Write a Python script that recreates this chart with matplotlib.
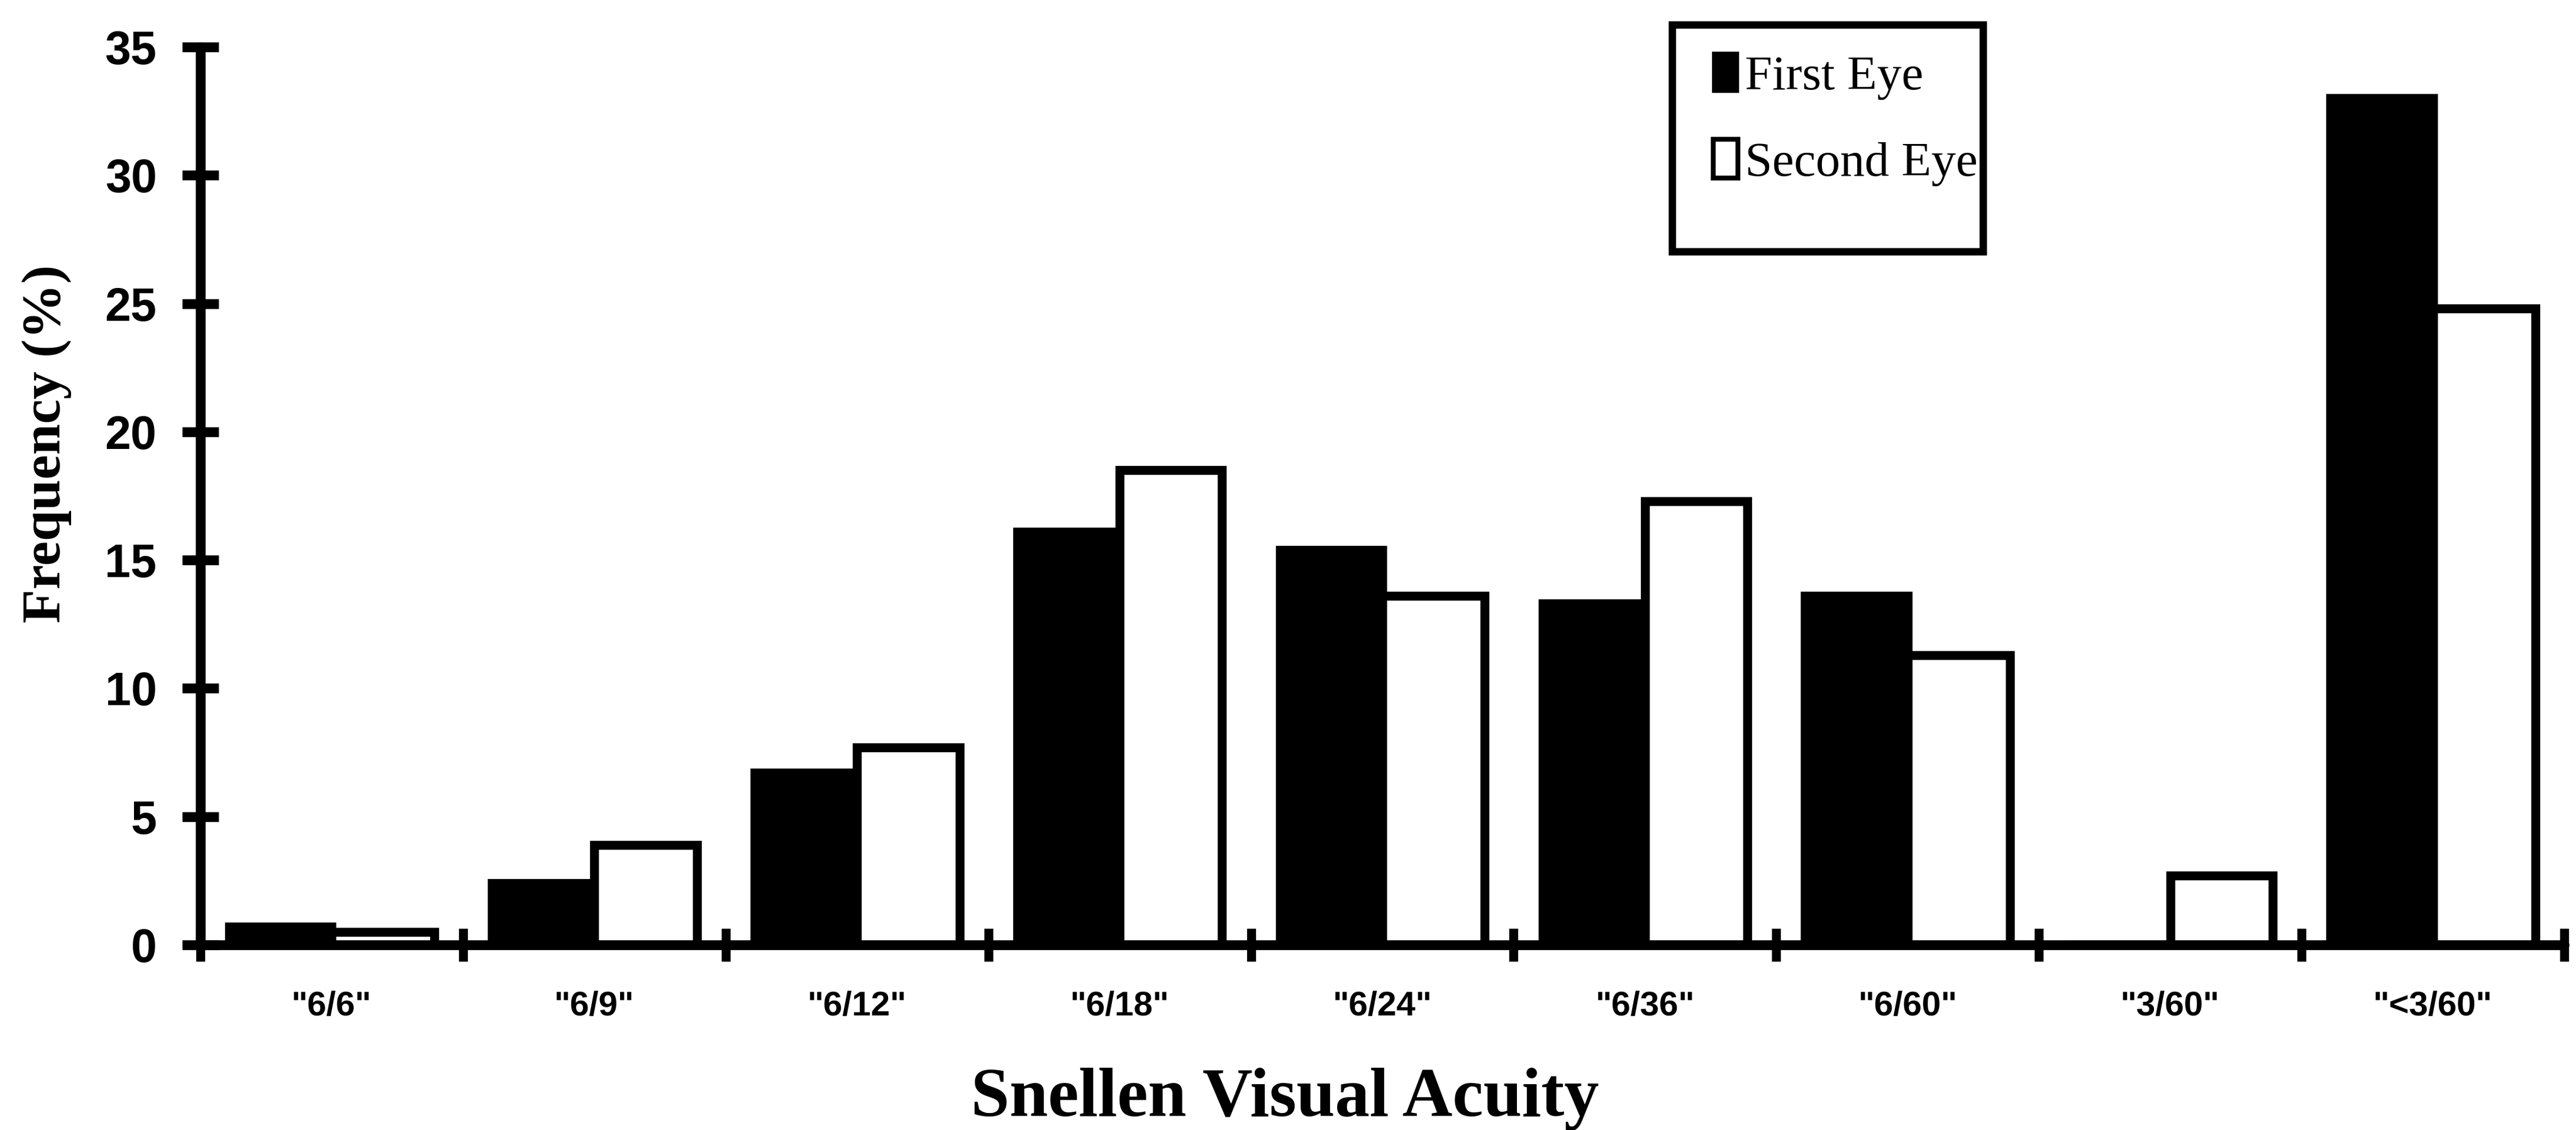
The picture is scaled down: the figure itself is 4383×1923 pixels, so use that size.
import matplotlib
matplotlib.use("Agg")
import matplotlib.pyplot as plt
import numpy as np
from matplotlib.patches import Patch, Rectangle
from matplotlib.ticker import FixedLocator, NullFormatter, FixedFormatter

# Snellen acuity categories and percentage frequencies
categories = ['"6/6"', '"6/9"', '"6/12"', '"6/18"', '"6/24"',
              '"6/36"', '"6/60"', '"3/60"', '"<3/60"']
first_eye = [0.7, 2.4, 6.7, 16.1, 15.4, 13.3, 13.6, 0.0, 33.0]
second_eye = [0.5, 3.9, 7.7, 18.5, 13.6, 17.3, 11.3, 2.7, 24.8]
y_ticks = [0, 5, 10, 15, 20, 25, 30, 35]

W, H, DPI = 4383, 1923, 100
fig = plt.figure(figsize=(W / DPI, H / DPI), dpi=DPI, facecolor="white")

ax_l, ax_r, ax_b, ax_t = 341, 4363, 1608, 80
ax = fig.add_axes([ax_l / W, 1 - ax_b / H, (ax_r - ax_l) / W, (ax_b - ax_t) / H])

x = np.arange(len(categories))
width = 0.39
edge_lw = 11
ax.bar(x - width / 2, first_eye, width, color="black", edgecolor="black",
       linewidth=edge_lw, zorder=2)
ax.bar(x + width / 2, second_eye, width, color="white", edgecolor="black",
       linewidth=edge_lw, zorder=2)

ax.set_xlim(-0.5, len(categories) - 0.5)
ax.set_ylim(0, 35)

for side in ("top", "right"):
    ax.spines[side].set_visible(False)
for side in ("left", "bottom"):
    ax.spines[side].set_linewidth(12)
    ax.spines[side].set_capstyle("round")

# y axis ticks
ax.set_yticks(y_ticks)
ax.tick_params(axis="y", direction="inout", length=45, width=12, pad=31,
               labelsize=57)
for lab in ax.get_yticklabels():
    lab.set_fontfamily("Liberation Sans")
    lab.set_fontweight("bold")

# x axis: major ticks at category boundaries, labels on minor ticks at centres
ax.xaxis.set_major_locator(FixedLocator(np.arange(-0.5, len(categories), 1.0)))
ax.xaxis.set_major_formatter(NullFormatter())
ax.xaxis.set_minor_locator(FixedLocator(x))
ax.xaxis.set_minor_formatter(FixedFormatter(categories))
ax.tick_params(axis="x", which="major", direction="inout", length=40, width=11)
ax.tick_params(axis="x", which="minor", length=0, pad=56, labelsize=42)
for lab in ax.xaxis.get_minorticklabels():
    lab.set_fontfamily("Liberation Sans")
    lab.set_fontweight("bold")

ax.set_xlabel("Snellen Visual Acuity", family="Liberation Serif",
              fontweight="bold", fontsize=85, va="center", ha="center")
ax.xaxis.set_label_coords((2186 - ax_l) / (ax_r - ax_l), (ax_b - 1870) / (ax_b - ax_t))
ax.set_ylabel("Frequency (%)", family="Liberation Serif",
              fontweight="bold", fontsize=68, va="center", ha="center")
ax.yaxis.set_label_coords((80 - ax_l) / (ax_r - ax_l), (ax_b - 755) / (ax_b - ax_t))

# legend with a separately drawn frame
frame = Rectangle((2845 / W, 1 - 428 / H), 529 / W, 386 / H,
                  transform=fig.transFigure, fill=False, edgecolor="black",
                  linewidth=9, zorder=5)
fig.add_artist(frame)
handles = [Patch(facecolor="black", edgecolor="black", linewidth=3),
           Patch(facecolor="white", edgecolor="black", linewidth=6)]
leg = fig.legend(handles, ["First Eye", "Second Eye"], loc="upper left",
                 bbox_to_anchor=(2915 / W, 1 - 90 / H), frameon=False,
                 prop={"family": "Liberation Serif", "size": 60},
                 handlelength=0.5, handleheight=0.85, handletextpad=0.15,
                 labelspacing=0.8, borderpad=0, borderaxespad=0)

fig.savefig("out.png", dpi=DPI, facecolor="white")
